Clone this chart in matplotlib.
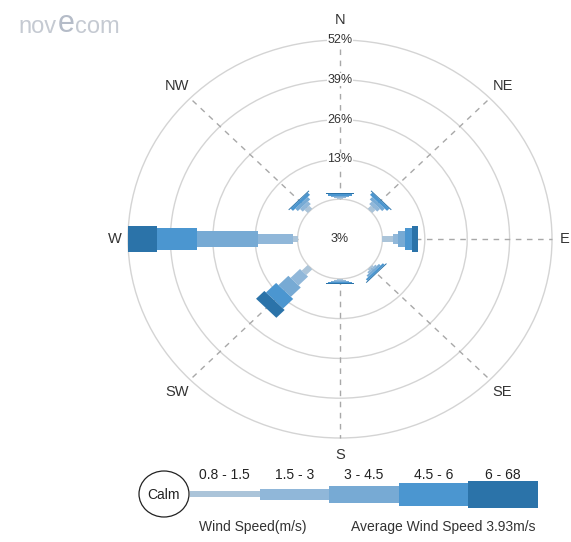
import matplotlib
matplotlib.use('Agg')
import matplotlib.pyplot as plt
from matplotlib.patches import Polygon, Circle, Ellipse
import numpy as np

plt.rcParams['font.family'] = ['Liberation Sans', 'DejaVu Sans']

# wind rose data: frequency (%) in each speed bin, per direction
directions = ['N', 'NE', 'E', 'SE', 'S', 'SW', 'W', 'NW']
angles = [0, 45, 90, 135, 180, 225, 270, 315]
speed_bins = ['0.8 - 1.5', '1.5 - 3', '3 - 4.5', '4.5 - 6', '6 - 68']
colors = ['#abc4d9', '#90b7d9', '#77aad4', '#4b96d0', '#2b73a9']

n_vals = [0.4, 0.4, 0.4, 0.5, 0.2]
ne_vals = [1.4, 1.2, 1.1, 1.0, 0.3]
e_vals = [3.2, 1.6, 2.1, 2.1, 1.8]
se_vals = [0.6, 0.6, 0.7, 0.7, 0.3]
s_vals = [0.3, 0.4, 0.4, 0.4, 0.2]
sw_vals = [2.6, 4.1, 4.3, 4.4, 3.6]
w_vals = [1.5, 10.7, 18.7, 12.2, 8.9]
nw_vals = [1.4, 1.2, 1.1, 1.0, 0.3]
rose = [n_vals, ne_vals, e_vals, se_vals, s_vals, sw_vals, w_vals, nw_vals]

calm = 3
ring_ticks = [13, 26, 39, 52]
avg_speed = 3.93

# layout (pixels)
W, H = 571, 542
cx, cy = 340, 239
hole = 13            # calm hole radius in % units
r_max = hole + ring_ticks[-1]
sx, sy = 212 / r_max, 199 / r_max
bar_w = [2.0, 3.5, 5.4, 7.4, 8.8]
leg_h = [6, 11, 17, 23, 27]
label_r = [71.5, 70.5, 69, 70.5, 70.5, 70.5, 69, 70.5]

fig = plt.figure(figsize=(W / 100, H / 100), dpi=100)
ax = fig.add_axes([0, 0, 1, 1])
ax.set_xlim(-cx / sx, (W - cx) / sx)
ax.set_ylim(-(H - cy) / sy, cy / sy)
ax.axis('off')

# rings
for r in [0] + ring_ticks:
    ax.add_patch(Circle((0, 0), hole + r, fill=False, ec='#d4d4d4', lw=1, zorder=1))

# dashed direction lines and labels
for name, a, lr in zip(directions, angles, label_r):
    t = np.radians(a)
    ux, uy = np.sin(t), np.cos(t)
    ax.plot([hole * ux, r_max * ux], [hole * uy, r_max * uy], color='#a8a8a8',
            lw=1, dashes=(4, 4), zorder=1)
    ax.text(lr * ux, lr * uy, name, ha='center', va='center', fontsize=10.5,
            color='#333333')

for v in ring_ticks:
    ax.text(0, hole + v, f'{v}%', ha='center', va='center', fontsize=9, color='#333333',
            bbox=dict(boxstyle='square,pad=0.05', fc='white', ec='none'), zorder=3)

ax.text(0, 0, f'{calm}%', ha='center', va='center', fontsize=9, color='#333333')

# stacked bars of increasing width
for vals, a in zip(rose, angles):
    t = np.radians(a)
    u = np.array([np.sin(t), np.cos(t)])
    p = np.array([np.cos(t), -np.sin(t)])
    r0 = hole
    for v, w, c in zip(vals, bar_w, colors):
        r1 = r0 + v
        h = w / 2
        pts = [r0 * u + h * p, r0 * u - h * p, r1 * u - h * p, r1 * u + h * p]
        ax.add_patch(Polygon(pts, closed=True, fc=c, ec='none', zorder=2))
        r0 = r1

# legend and logo in pixel coordinates
ax2 = fig.add_axes([0, 0, 1, 1])
ax2.set_xlim(0, W)
ax2.set_ylim(H, 0)
ax2.axis('off')

ax2.text(18, 27, 'nov', fontsize=17, color='#c5cad2', va='center')
ax2.text(58, 24, 'e', fontsize=22, color='#b5bcc8', va='center')
ax2.text(75, 27, 'com', fontsize=17, color='#c5cad2', va='center')

ax2.add_patch(Ellipse((164, 494), 50, 46, fill=False, ec='#222222', lw=0.9))
ax2.text(164, 495, 'Calm', ha='center', va='center', fontsize=10, color='#222222')
x0, seg = 190, 69.6
lefts = [x0 + i * seg for i in range(len(speed_bins))]
ax2.barh([494] * len(speed_bins), [seg] * len(speed_bins), left=lefts, height=leg_h,
         color=colors, zorder=0)
for lab, l in zip(speed_bins, lefts):
    ax2.text(l + seg / 2, 475, lab, ha='center', va='center', fontsize=10, color='#222222')
ax2.text(253, 527, 'Wind Speed(m/s)', ha='center', va='center', fontsize=10, color='#333333')
ax2.text(443, 527, f'Average Wind Speed {avg_speed}m/s', ha='center', va='center',
         fontsize=10, color='#333333')

fig.savefig('out.png', dpi=100)
